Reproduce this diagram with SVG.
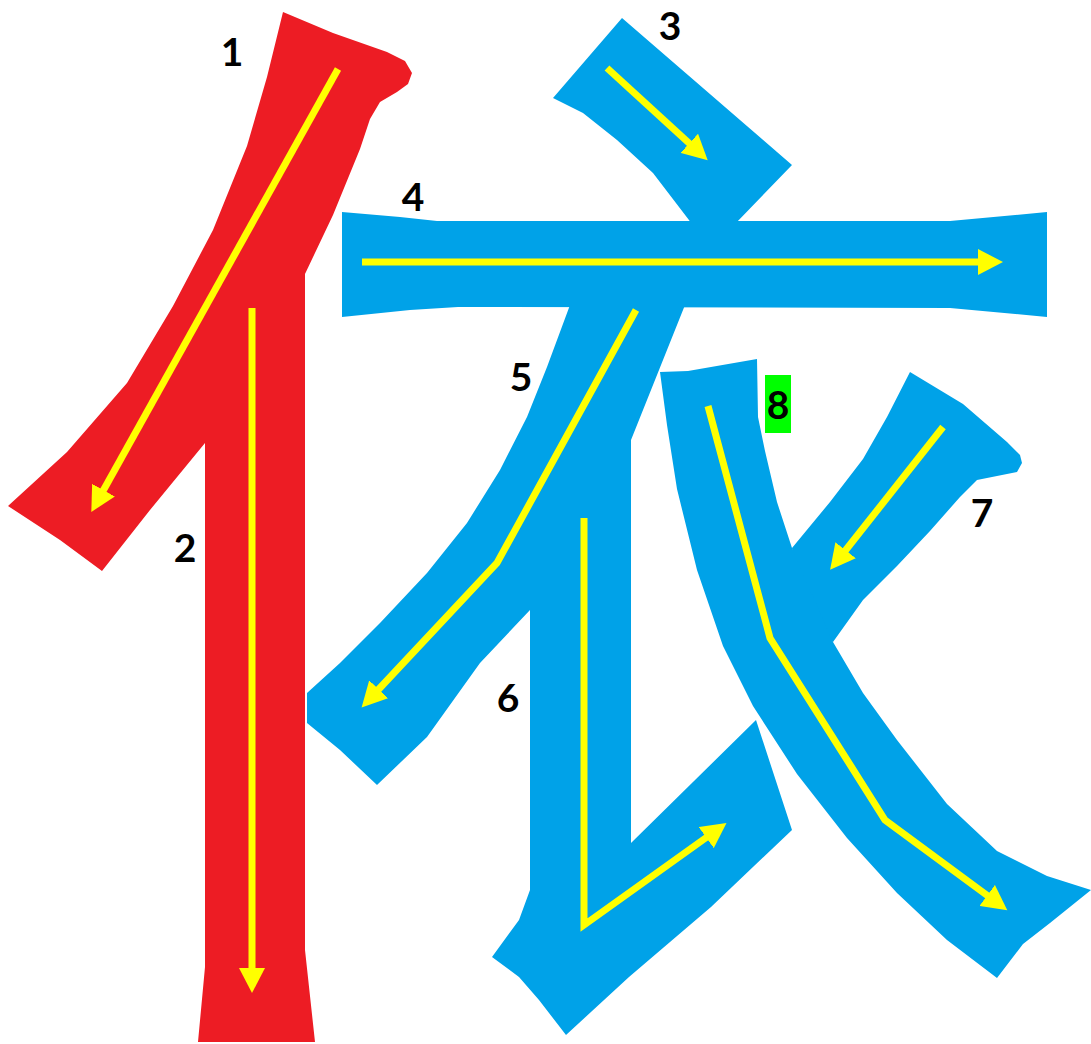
<svg xmlns="http://www.w3.org/2000/svg" width="1091" height="1044" viewBox="0 0 1091 1044">
<style>
.red{fill:#ED1C24}
.blue{fill:#00A2E8}
.arr{fill:none;stroke:#FFFF00;stroke-width:7;stroke-linejoin:miter;marker-end:url(#ah)}
.lbl{font-family:Lato,"Open Sans","Liberation Sans",sans-serif;font-weight:700;font-size:39px;fill:#000;text-anchor:middle}
</style>
<defs>
<marker id="ah" markerUnits="userSpaceOnUse" viewBox="0 0 26 26" markerWidth="26" markerHeight="26" refX="1" refY="13" orient="auto">
<path d="M0,0 L25,13 L0,26 Z" fill="#FFFF00"/>
</marker>
</defs>
<rect width="1091" height="1044" fill="#fff"/>
<g id="stroke1-2">
<path class="red" d="M283,12 L333,33 L387,52 L405,61 L412,73 L408,84 L397,92 L380,102 L370,119 L360,149 L333,215 L305,274 L305,950 L315,1042 L198,1042 L205,967 L205,443 L150,510 L102,571 L60,540 L8,506 L67,452 L127,383 L173,306 L213,230 L247,146 L267,77 Z"/>
</g>
<g id="stroke3">
<path class="blue" d="M622,18 L792,165 L735,224 L692,224 L653,173 L617,140 L583,113 L553,98 Z"/>
</g>
<g id="stroke4">
<path class="blue" d="M342,212 L400,217 L437,221 L950,221 L1047,212 L1047,317 L950,308 L458,307 L410,310 L342,317 Z"/>
</g>
<g id="stroke5-6">
<path class="blue" d="M570,305 L547,367 L527,417 L500,470 L467,523 L427,573 L380,623 L340,663 L307,693 L307,723 L340,750 L377,785 L427,737 L480,663 L530,610 L530,890 L519,920 L492,957 L519,977 L539,1000 L566,1035 L629,977 L711,907 L792,830 L756,720 L631,843 L631,440 L685,305 Z"/>
</g>
<g id="stroke7">
<path class="blue" d="M792,548 L830,502 L863,459 L887,417 L910,372 L963,404 L1007,442 L1020,455 L1022,463 L1017,472 L997,476 L977,480 L960,497 L930,531 L897,566 L863,600 L833,642 L800,620 Z"/>
</g>
<g id="stroke8">
<path class="blue" d="M660,372 L688,371 L757,359 L758,417 L765,451 L777,502 L792,548 L810,590 L833,642 L863,693 L897,740 L947,804 L997,851 L1047,876 L1091,890 L1050,923 L1023,944 L997,978 L947,940 L897,893 L847,838 L797,774 L753,706 L723,646 L697,570 L677,489 L667,425 Z"/>
</g>
<g id="arrows">
<line class="arr" x1="338" y1="69" x2="103" y2="491"/>
<line class="arr" x1="252" y1="308" x2="252" y2="969"/>
<line class="arr" x1="607" y1="68" x2="690" y2="144"/>
<line class="arr" x1="362" y1="262" x2="979" y2="262"/>
<polyline class="arr" points="636,310 497,563 378,690"/>
<polyline class="arr" points="584,518 584,925 707,837"/>
<line class="arr" x1="943" y1="427" x2="845" y2="551"/>
<polyline class="arr" points="708,406 770,638 885,820 988,896"/>
</g>
<g id="labels">
<rect x="765" y="375" width="26" height="58" fill="#00FF00"/>
<text class="lbl" x="232" y="66">1</text>
<text class="lbl" x="185" y="562">2</text>
<text class="lbl" x="670" y="40">3</text>
<text class="lbl" x="413" y="211">4</text>
<text class="lbl" x="521" y="391">5</text>
<text class="lbl" x="508" y="712">6</text>
<text class="lbl" x="982" y="527">7</text>
<text class="lbl" x="778" y="419">8</text>
</g>
</svg>
